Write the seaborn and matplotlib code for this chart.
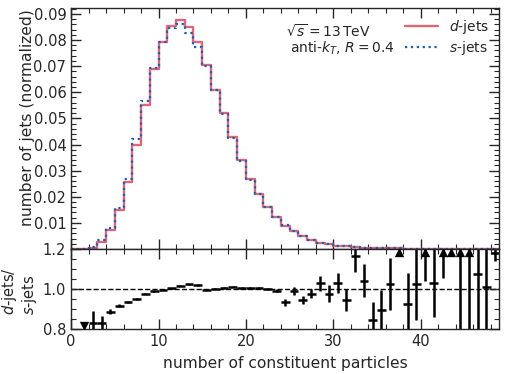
import numpy as np
import pandas as pd
import matplotlib
matplotlib.use("Agg")
import matplotlib.pyplot as plt
import seaborn as sns
from matplotlib.ticker import MultipleLocator, FormatStrFormatter
from matplotlib.lines import Line2D

# bin edges: 0, 1, 2, ..., 49 (number of constituent particles)
edges = list(range(0, 50))
centers = np.array(edges[:-1]) + 0.5

d_jets = [0.0002, 0.0002, 0.0005, 0.0027, 0.0072, 0.0148, 0.0256, 0.0399, 0.0552, 0.0689,
          0.0792, 0.0854, 0.0875, 0.0849, 0.0792, 0.0703, 0.0610, 0.0520, 0.0429, 0.0340,
          0.0268, 0.0212, 0.0161, 0.0123, 0.0089, 0.0068, 0.0049, 0.0035, 0.0025, 0.0018,
          0.0013, 0.0010, 0.0008, 0.0006, 0.0005, 0.0004, 0.0003, 0.0003, 0.0002, 0.0002,
          0.0002, 0.0001, 0.0001, 0.0001, 0.0001, 0.0001, 0.0001, 0.0001, 0.0001]
s_jets = [0.0002, 0.0002, 0.0008, 0.0034, 0.0080, 0.0157, 0.0268, 0.0421, 0.0565, 0.0692,
          0.0792, 0.0845, 0.0861, 0.0826, 0.0775, 0.0701, 0.0607, 0.0517, 0.0425, 0.0337,
          0.0266, 0.0210, 0.0160, 0.0123, 0.0092, 0.0068, 0.0050, 0.0035, 0.0024, 0.0018,
          0.0013, 0.0010, 0.0007, 0.0006, 0.0005, 0.0004, 0.0003, 0.0003, 0.0002, 0.0002,
          0.0002, 0.0001, 0.0001, 0.0001, 0.0001, 0.0001, 0.0001, 0.0001, 0.0001]

# ratio d/s for bins 1..48 (centres 1.5 .. 48.5)
ratio = [0.70, 0.833, 0.833, 0.888, 0.918, 0.935, 0.950, 0.978, 0.990, 0.998,
         1.005, 1.017, 1.023, 1.020, 0.998, 1.003, 1.007, 1.013, 1.007, 1.007,
         1.007, 1.002, 0.992, 0.935, 0.990, 0.945, 0.978, 1.028, 0.978, 1.032,
         0.945, 1.167, 1.042, 0.845, 0.895, 1.025, 1.30, 0.928, 1.025, 1.35,
         1.03, 1.35, 1.30, 1.60, 1.60, 1.073, 1.012, 1.18]
ratio_err = [0.05, 0.057, 0.033, 0.012, 0.008, 0.006, 0.005, 0.004, 0.003, 0.003,
             0.003, 0.003, 0.003, 0.003, 0.003, 0.003, 0.003, 0.003, 0.003, 0.003,
             0.004, 0.005, 0.007, 0.017, 0.020, 0.020, 0.022, 0.037, 0.044, 0.050,
             0.054, 0.080, 0.083, 0.090, 0.100, 0.130, 0.050, 0.150, 0.180, 0.310,
             0.170, 0.295, 0.050, 0.900, 0.900, 0.400, 0.400, 0.040]

RED = "#d44d63"
BLUE = "#1f5fad"
LABEL_SIZE = 11.2

sns.set_style("ticks")
plt.rcParams["font.family"] = ["DejaVu Sans"]
plt.rcParams["mathtext.fontset"] = "dejavusans"

hist = pd.DataFrame({"n": centers, "d": d_jets, "s": s_jets})

fig = plt.figure(figsize=(5.08, 3.74), dpi=100)
ax = fig.add_axes([0.140, 0.334, 0.843, 0.645])
axr = fig.add_axes([0.140, 0.120, 0.843, 0.214], sharex=ax)

sns.histplot(data=hist, x="n", weights="d", bins=edges, element="step", fill=False,
             color=RED, linewidth=1.7, alpha=0.85, ax=ax)
sns.histplot(data=hist, x="n", weights="s", bins=edges, element="step", fill=False,
             color=BLUE, linewidth=1.6, linestyle=":", ax=ax)

ax.set_xlim(0, 49)
ax.set_ylim(0, 0.0923)
ax.set_yticks(np.arange(0.01, 0.0901, 0.01))
ax.yaxis.set_major_formatter(FormatStrFormatter("%.2f"))
ax.yaxis.set_minor_locator(MultipleLocator(0.002))
ax.set_ylabel("number of jets (normalized)", fontsize=LABEL_SIZE)
ax.yaxis.set_label_coords(-0.084, 0.546)
ax.set_xlabel("")
plt.setp(ax.get_xticklabels(), visible=False)

ax.text(0.502, 0.902, r"$\sqrt{s} = 13\,$TeV", transform=ax.transAxes,
        ha="left", va="center", fontsize=10)
ax.text(0.511, 0.834, r"anti-$k_T$, $R = 0.4$", transform=ax.transAxes,
        ha="left", va="center", fontsize=10)

handles = [Line2D([], [], color=RED, lw=1.7, alpha=0.85),
           Line2D([], [], color=BLUE, lw=1.6, ls=":")]
ax.legend(handles, [r"$d$-jets", r"$s$-jets"], loc="upper right", frameon=False,
          fontsize=10, handlelength=2.4, borderaxespad=0.3, labelspacing=0.25,
          bbox_to_anchor=(1.0, 1.0))

# ratio panel
rx = centers[1:]
r = np.array(ratio)
axr.errorbar(rx, r, yerr=ratio_err, xerr=0.5, fmt="none", ecolor="black",
             elinewidth=1.8, capsize=0)
above = r > 1.2
below = r < 0.8
sns.scatterplot(x=rx[above], y=np.full(above.sum(), 1.183), marker="^", color="black",
                s=45, edgecolor="black", linewidth=0, ax=axr, zorder=5)
sns.scatterplot(x=rx[below], y=np.full(below.sum(), 0.815), marker="v", color="black",
                s=45, edgecolor="black", linewidth=0, ax=axr, zorder=5)
axr.axhline(1.0, color="black", lw=1, ls="--", zorder=0)

axr.set_ylim(0.8, 1.2)
axr.set_yticks([0.8, 1.0, 1.2])
axr.yaxis.set_major_formatter(FormatStrFormatter("%.1f"))
axr.yaxis.set_minor_locator(MultipleLocator(0.05))
axr.set_xticks([0, 10, 20, 30, 40])
axr.xaxis.set_minor_locator(MultipleLocator(2))
axr.set_xlabel("number of constituent particles", fontsize=LABEL_SIZE)
axr.xaxis.set_label_coords(0.5, -0.33)
axr.set_ylabel("$d$-jets/\n$s$-jets", fontsize=10.5, multialignment="left",
               linespacing=1.1)
axr.yaxis.set_label_coords(-0.074, 0.47)

for a in (ax, axr):
    a.tick_params(which="both", direction="in", top=True, right=True, labelsize=10.5)
    a.tick_params(which="major", length=7, width=1)
    a.tick_params(which="minor", length=3.5, width=0.8)
    for sp in a.spines.values():
        sp.set_linewidth(1)

fig.savefig("out.png", dpi=100)
